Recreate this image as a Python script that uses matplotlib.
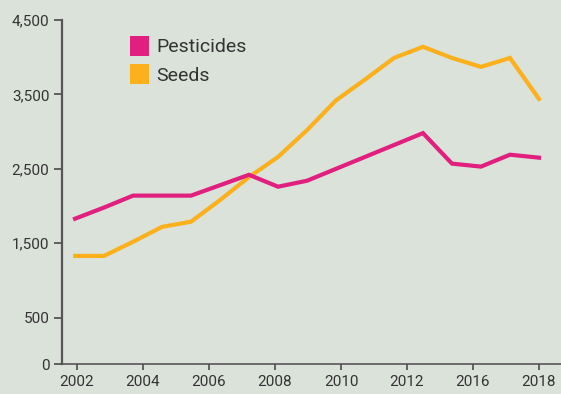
import numpy as np
import matplotlib
matplotlib.use('Agg')
import matplotlib.pyplot as plt
from matplotlib.patches import Patch

# Annual values, 2002-2018
years = np.arange(2002, 2019)
pesticides = [1830, 1980, 2140, 2140, 2140, 2280, 2420, 2260, 2340,
              2500, 2660, 2820, 2980, 2570, 2530, 2690, 2650]
seeds = [1330, 1330, 1520, 1720, 1790, 2080, 2390, 2660, 3020,
         3420, 3700, 3990, 4140, 3990, 3870, 3990, 3440]

x_tick_labels = ['2002', '2004', '2006', '2008', '2010', '2012', '2016', '2018']
y_ticks = [0, 500, 1500, 2500, 3500, 4500]

BG = '#dbe2da'
PINK = '#e01f7e'
ORANGE = '#fbb01c'
AXIS = '#555555'
TEXT = '#333333'

plt.rcParams['font.family'] = ['Liberation Sans Narrow', 'Roboto', 'DejaVu Sans']

# bottom segment (0-500) is stretched a bit compared to the rest
K = 1.245
def fwd(v):
    v = np.asarray(v, dtype=float)
    return np.where(v >= 500, v, 500 - (500 - v) * K)

def inv(t):
    t = np.asarray(t, dtype=float)
    return np.where(t >= 500, t, 500 - (500 - t) / K)

fig = plt.figure(figsize=(5.61, 3.94), dpi=100, facecolor=BG)
ax = fig.add_axes([62 / 561, 30 / 394, 499 / 561, 344 / 394])
ax.set_facecolor(BG)
ax.set_yscale('function', functions=(fwd, inv))

ax.plot(years, seeds, color=ORANGE, lw=3.0, solid_joinstyle='miter', zorder=2)
ax.plot(years, pesticides, color=PINK, lw=3.0, solid_joinstyle='miter', zorder=3)

ax.set_xlim(2001.55, 2018.76)
ax.set_ylim(0, 4500)

ax.set_xticks(np.linspace(2002.07, 2018, len(x_tick_labels)))
ax.set_xticklabels(x_tick_labels)
ax.set_yticks(y_ticks)
ax.set_yticklabels([f'{t:,}' for t in y_ticks])
ax.yaxis.set_minor_locator(matplotlib.ticker.NullLocator())

for s in ['top', 'right']:
    ax.spines[s].set_visible(False)
ax.spines['left'].set_color(AXIS)
ax.spines['left'].set_linewidth(1.6)
ax.spines['bottom'].set_color(AXIS)
ax.spines['bottom'].set_linewidth(1.2)

ax.tick_params(axis='y', length=6, width=1.3, color=AXIS, labelcolor=TEXT,
               labelsize=11, pad=3)
ax.tick_params(axis='x', length=4, width=1.3, color=AXIS, labelcolor=TEXT,
               labelsize=11, pad=4)

handles = [Patch(facecolor=PINK, label='Pesticides'),
           Patch(facecolor=ORANGE, label='Seeds')]
ax.legend(handles=handles, loc='upper left', bbox_to_anchor=(122 / 561, 1 - 28 / 394),
          bbox_transform=fig.transFigure, frameon=False, fontsize=14,
          handlelength=0.98, handleheight=1.2, handletextpad=0.4,
          labelspacing=0.42, borderaxespad=0, labelcolor=TEXT)

fig.savefig('out.png', dpi=100, facecolor=BG)
